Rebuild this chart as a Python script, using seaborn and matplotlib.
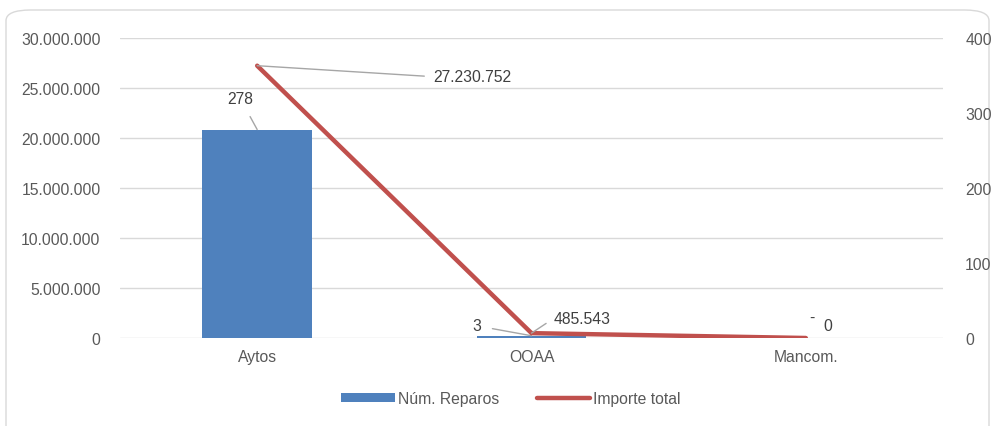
import matplotlib
matplotlib.use("Agg")
import matplotlib.pyplot as plt
import seaborn as sns
import numpy as np
import pandas as pd
from matplotlib.patches import FancyBboxPatch, Patch
from matplotlib.lines import Line2D
from matplotlib.ticker import FuncFormatter

categories = ["Aytos", "OOAA", "Mancom."]
num_reparos = [278, 3, 0]
importe_total = [27230752, 485543, 0]
bar_labels = ["278", "3", "-"]
line_labels = ["27.230.752", "485.543", "0"]

sns.set_theme(style="white")
plt.rcParams['font.family'] = ['Liberation Sans', 'DejaVu Sans']
FS = 11.3
plt.rcParams['font.size'] = FS

W, H = 993, 427
fig = plt.figure(figsize=(W / 100, H / 100), dpi=100)

# outer rounded frame
frame = FancyBboxPatch((6 / W, -20 / H), 983 / W, 436 / H,
                       boxstyle="round,pad=0,rounding_size=0.025",
                       transform=fig.transFigure, facecolor="white",
                       edgecolor="#D9D9D9", linewidth=1.0, zorder=0)
fig.patches.append(frame)

ax_bar = fig.add_axes([120 / W, 1 - 339 / H, 823 / W, 300 / H])
ax_line = ax_bar.twinx()
ax_bar.set_zorder(1)
ax_bar.patch.set_visible(False)
ax_line.set_zorder(2)
ax_line.patch.set_visible(False)

df = pd.DataFrame({"cat": categories, "n": num_reparos})
sns.barplot(data=df, x="cat", y="n", ax=ax_bar, color="#4F81BD",
            width=0.4, saturation=1, zorder=2, edgecolor="none")
ax_bar.set_xlim(-0.5, 2.5)
ax_bar.set_ylim(0, 400)
ax_bar.yaxis.tick_right()
ax_bar.yaxis.set_label_position("right")
ax_bar.set_yticks([0, 100, 200, 300, 400])
ax_bar.set_yticks(np.linspace(0, 400, 7), minor=True)
ax_bar.yaxis.remove_overlapping_locs = False
ax_bar.grid(which="minor", axis="y", color="#D9D9D9", linewidth=1.0, zorder=0)
ax_bar.grid(which="major", axis="y", visible=False)
ax_bar.set_axisbelow(True)
ax_bar.tick_params(axis="y", which="both", length=0, pad=16, colors="#595959",
                   labelsize=FS, left=False, labelleft=False,
                   right=False, labelright=True)
ax_bar.tick_params(axis="y", which="minor", labelright=False)
ax_bar.tick_params(axis="x", length=0, pad=8, colors="#595959", labelsize=FS)
ax_bar.set_xlabel("")
ax_bar.set_ylabel("")
for s in ax_bar.spines.values():
    s.set_visible(False)

ax_line.plot(range(len(categories)), importe_total, color="#C0504D",
             linewidth=3.2, solid_capstyle="round", zorder=3)
ax_line.set_ylim(0, 30000000)
ax_line.yaxis.tick_left()
ax_line.set_yticks(np.arange(0, 30000001, 5000000))
ax_line.yaxis.set_major_formatter(
    FuncFormatter(lambda v, p: f"{int(v):,}".replace(",", ".")))
ax_line.tick_params(axis="y", length=0, pad=14, colors="#595959", labelsize=FS,
                    left=False, labelleft=True, right=False, labelright=False)
for s in ax_line.spines.values():
    s.set_visible(False)

lc = "#A6A6A6"
tc = "#404040"
k = 0.72  # px -> points
# bar labels
bar_offsets = [(-17, 31), (-55, 10), (6, 21)]
for i, (lab, off) in enumerate(zip(bar_labels, bar_offsets)):
    arrow = dict(arrowstyle="-", color=lc, lw=1, shrinkA=6, shrinkB=0) if i < 2 else None
    ax_bar.annotate(lab, xy=(i, num_reparos[i]), xytext=(off[0] * k, off[1] * k),
                    textcoords="offset points", ha="center", va="center",
                    color=tc, fontsize=FS, arrowprops=arrow, zorder=5)
# line labels
line_offsets = [(215, -11), (51, 15), (22, 12)]
for i, (lab, off) in enumerate(zip(line_labels, line_offsets)):
    arrow = dict(arrowstyle="-", color=lc, lw=1, shrinkA=4, shrinkB=0,
                 relpos=(0, 0.5)) if i < 2 else None
    ax_line.annotate(lab, xy=(i, importe_total[i]), xytext=(off[0] * k, off[1] * k),
                     textcoords="offset points", ha="center", va="center",
                     color=tc, fontsize=FS, arrowprops=arrow, zorder=5)

handles = [Patch(facecolor="#4F81BD", edgecolor="none"),
           Line2D([0], [0], color="#C0504D", linewidth=3.2, solid_capstyle="round")]
leg = fig.legend(handles, ["Núm. Reparos", "Importe total"], loc="center",
                 bbox_to_anchor=(511 / W, 1 - 400 / H), ncol=2, frameon=False,
                 fontsize=FS, handlelength=3.4, handleheight=0.5,
                 handletextpad=0.2, columnspacing=2.4)
for t in leg.get_texts():
    t.set_color("#595959")

fig.savefig("out.png", dpi=100)
